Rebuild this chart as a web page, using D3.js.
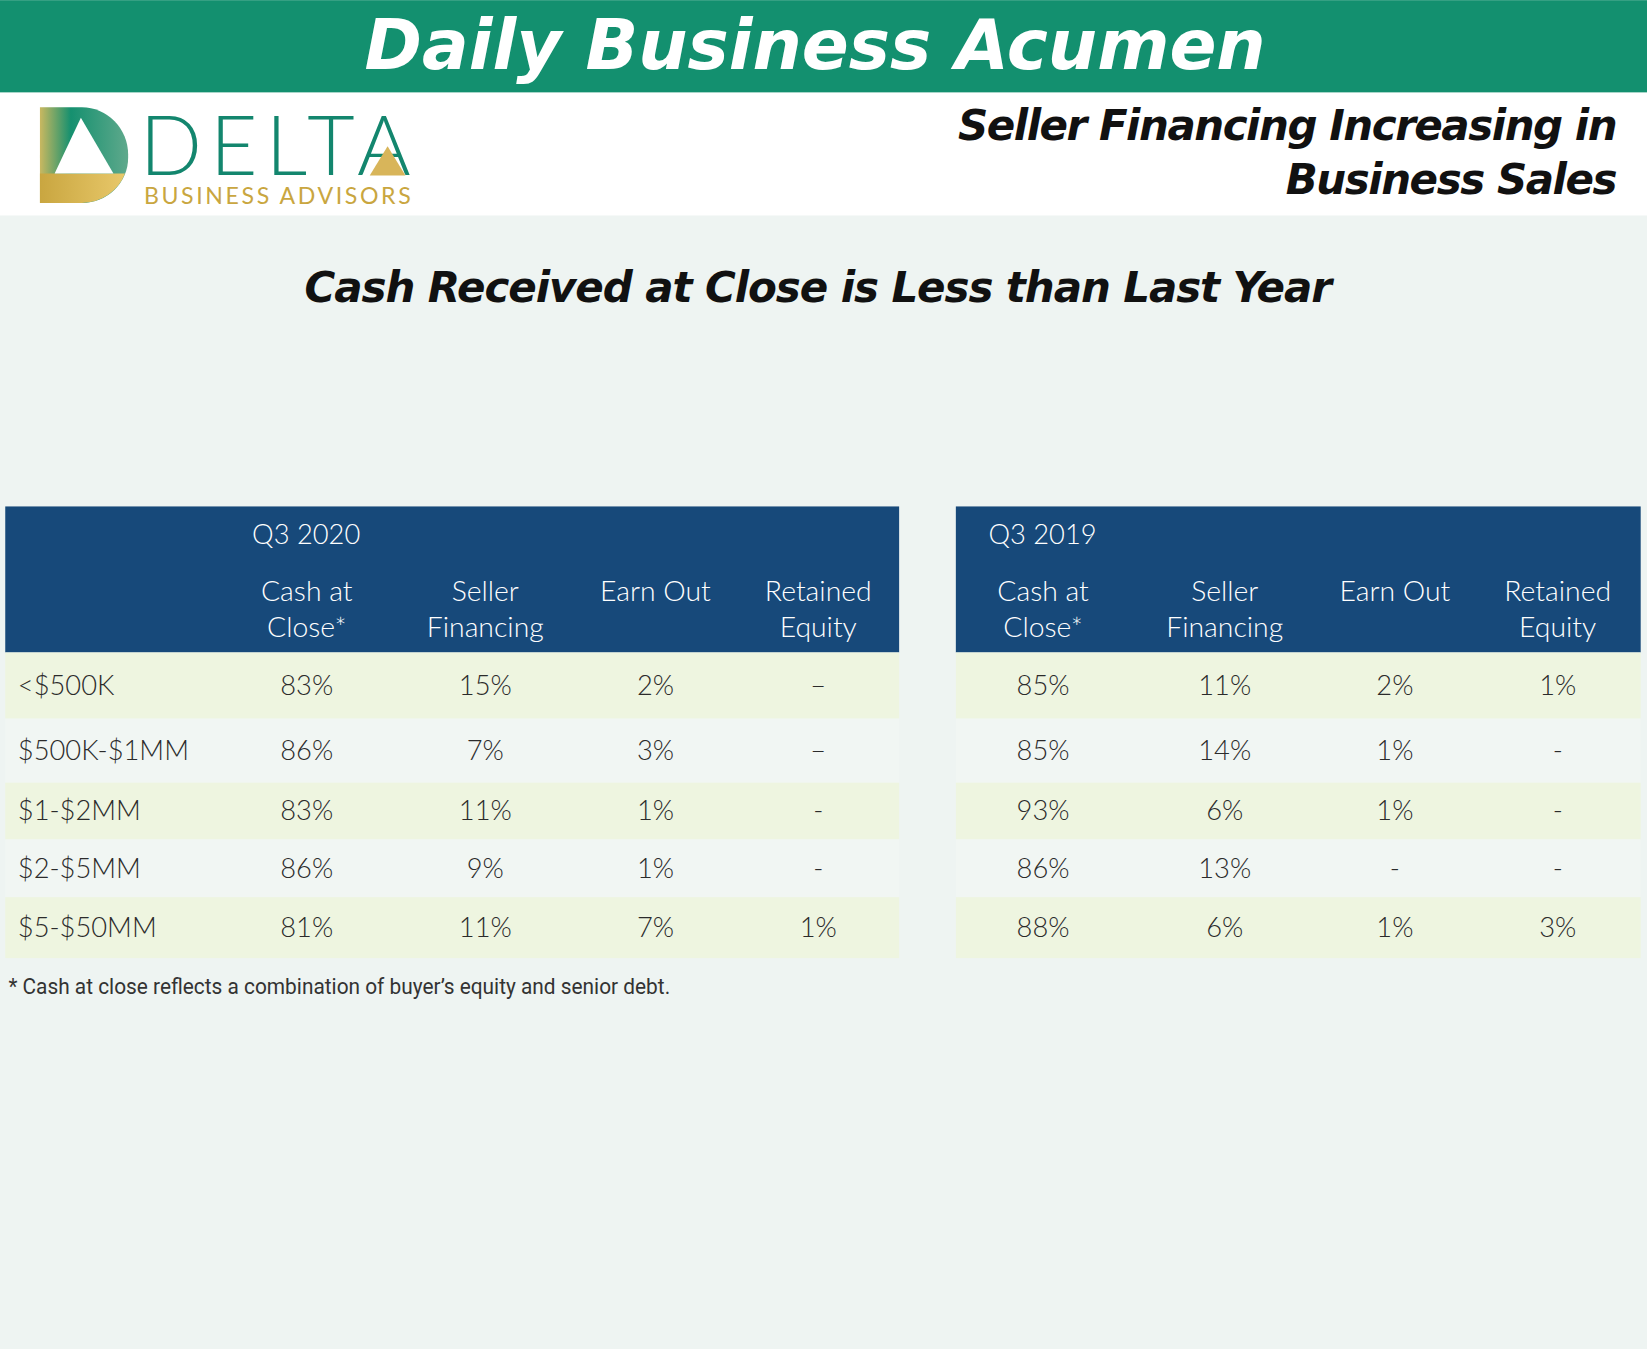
<!DOCTYPE html>
<html><head><meta charset="utf-8">
<script src="https://cdn.jsdelivr.net/npm/d3@7"></script>
<style>
  html, body { margin: 0; padding: 0; background: #eef4f2; }
  svg { display: block; }
</style></head>
<body>
<svg id="chart" width="1647" height="1349" viewBox="0 0 1568 1284"></svg>
<script>
const sizeBands = ['<$500K', '$500K-$1MM', '$1-$2MM', '$2-$5MM', '$5-$50MM'];
const columns = [['Cash at', 'Close*'], ['Seller', 'Financing'], ['Earn Out'], ['Retained', 'Equity']];
const q3_2020 = [
  ['83%', '15%', '2%', '–'],
  ['86%', '7%', '3%', '–'],
  ['83%', '11%', '1%', '-'],
  ['86%', '9%', '1%', '-'],
  ['81%', '11%', '7%', '1%']
];
const q3_2019 = [
  ['85%', '11%', '2%', '1%'],
  ['85%', '14%', '1%', '-'],
  ['93%', '6%', '1%', '-'],
  ['86%', '13%', '-', '-'],
  ['88%', '6%', '1%', '3%']
];

const svg = d3.select('#chart');
const titleFont = '"DejaVu Sans", sans-serif';
const bodyFont = 'Lato, "Open Sans", sans-serif';

// background + header band
svg.append('rect').attr('width', 1568).attr('height', 1284).attr('fill', '#eef4f2');
svg.append('rect').attr('width', 1568).attr('height', 88).attr('fill', '#13906f');
svg.append('rect').attr('y', 88).attr('width', 1568).attr('height', 117).attr('fill', '#ffffff');
svg.append('text').attr('x', 347).attr('y', 66)
  .attr('font-family', titleFont).attr('font-weight', 'bold').attr('font-style', 'italic')
  .attr('font-size', 66).attr('fill', '#fff').attr('textLength', 858).text('Daily Business Acumen');

// logo
const defs = svg.append('defs');
const gold = defs.append('linearGradient').attr('id', 'gold');
gold.append('stop').attr('offset', 0).attr('stop-color', '#c9a640');
gold.append('stop').attr('offset', 1).attr('stop-color', '#e8c86a');
const grn = defs.append('linearGradient').attr('id', 'grn').attr('x1', 0).attr('x2', 1);
grn.append('stop').attr('offset', 0).attr('stop-color', '#c9b860');
grn.append('stop').attr('offset', 0.35).attr('stop-color', '#15906f');
grn.append('stop').attr('offset', 1).attr('stop-color', '#5fa98c');
svg.append('path').attr('d', 'M38,102 H78 A44,45 0 0 1 122,147 V150 A44,43 0 0 1 78,193 H38 Z').attr('fill', 'url(#grn)');
svg.append('path').attr('d', 'M38,165 H119 A44,43 0 0 1 78,193 H38 Z').attr('fill', 'url(#gold)');
svg.append('path').attr('d', 'M77,112 L108,165 H52 Z').attr('fill', '#fff');
svg.append('text').attr('x', 133).attr('y', 166).attr('font-family', bodyFont).attr('font-weight', 300)
  .attr('font-size', 78).attr('fill', '#13866e').attr('textLength', 258).text('DELTA');
svg.append('path').attr('d', 'M352,167 L369,139 L386,167 Z').attr('fill', '#d8b55a');
svg.append('text').attr('x', 137).attr('y', 194).attr('font-family', bodyFont)
  .attr('font-size', 22).attr('fill', '#c9a640').attr('textLength', 254).text('BUSINESS ADVISORS');

// right headline
[['Seller Financing Increasing in', 133, 628], ['Business Sales', 185, 316]].forEach(([t, y, w]) => {
  svg.append('text').attr('x', 1540 - w).attr('y', y)
    .attr('font-family', titleFont).attr('font-weight', 'bold').attr('font-style', 'italic')
    .attr('font-size', 40).attr('fill', '#111').attr('textLength', w).text(t);
});
svg.append('text').attr('x', 290).attr('y', 287)
  .attr('font-family', titleFont).attr('font-weight', 'bold').attr('font-style', 'italic')
  .attr('font-size', 40).attr('fill', '#111').attr('textLength', 978).text('Cash Received at Close is Less than Last Year');

// tables
const rowEdges = [621, 684, 745, 799, 854, 912];
function drawTable(x0, x1, title, colX, values, withLabels) {
  const g = svg.append('g');
  g.append('rect').attr('x', x0).attr('y', 482).attr('width', x1 - x0).attr('height', 139).attr('fill', '#17497a');
  g.append('text').attr('x', colX[0] - 52).attr('y', 518).attr('font-family', bodyFont).attr('font-weight', 300)
    .attr('font-size', 26).attr('fill', '#fff').text(title);
  columns.forEach((lines, i) => {
    lines.forEach((l, j) => {
      g.append('text').attr('x', colX[i]).attr('y', 572 + j * 34).attr('text-anchor', 'middle')
        .attr('font-family', bodyFont).attr('font-weight', 300).attr('font-size', 27)
        .attr('fill', '#fff').text(l);
    });
  });
  values.forEach((row, r) => {
    const y0 = rowEdges[r], y1 = rowEdges[r + 1];
    g.append('rect').attr('x', x0).attr('y', y0).attr('width', x1 - x0).attr('height', y1 - y0)
      .attr('fill', r % 2 === 0 ? '#eef5e0' : '#f1f6f3');
    const cy = (y0 + y1) / 2 + 9;
    if (withLabels) {
      g.append('text').attr('x', 17).attr('y', cy).attr('font-family', bodyFont).attr('font-weight', 300)
        .attr('font-size', 26).attr('fill', '#2b2b2b').text(sizeBands[r]);
    }
    row.forEach((v, i) => {
      g.append('text').attr('x', colX[i]).attr('y', cy).attr('text-anchor', 'middle')
        .attr('font-family', bodyFont).attr('font-weight', 300).attr('font-size', 26)
        .attr('fill', '#2b2b2b').text(v);
    });
  });
}
drawTable(5, 856, 'Q3 2020', [292, 462, 624, 779], q3_2020, true);
drawTable(910, 1562, 'Q3 2019', [993, 1166, 1328, 1483], q3_2019, false);

svg.append('text').attr('x', 8).attr('y', 946)
  .attr('font-family', '"Liberation Sans Narrow", "Roboto", sans-serif').attr('font-size', 21)
  .attr('fill', '#333').attr('textLength', 630).attr('lengthAdjust', 'spacingAndGlyphs')
  .text('* Cash at close reflects a combination of buyer\u2019s equity and senior debt.');
</script>
</body></html>
